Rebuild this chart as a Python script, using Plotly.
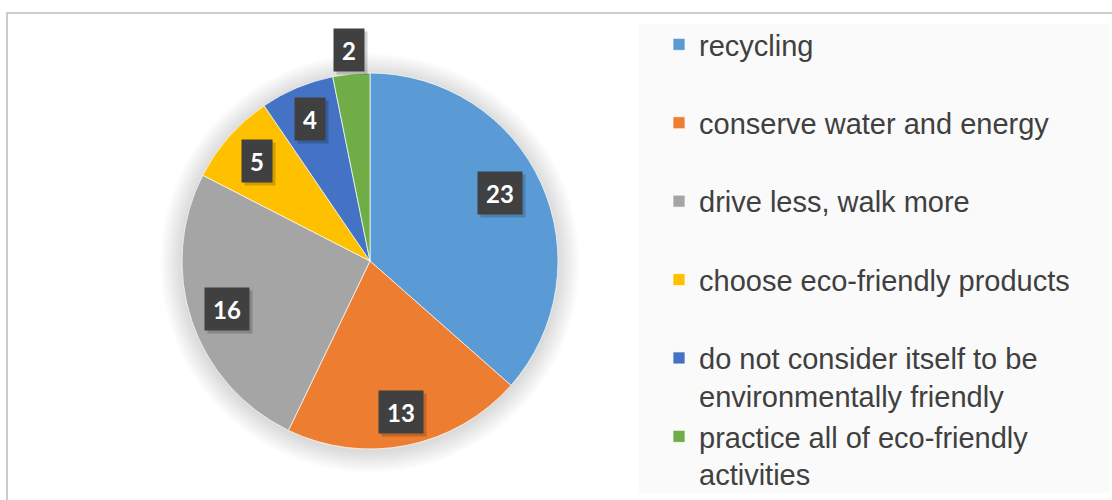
import math
import plotly.graph_objects as go

# Survey answers: what people do to be eco-friendly
labels = [
    "recycling",
    "conserve water and energy",
    "drive less, walk more",
    "choose eco-friendly products",
    "do not consider itself to be<br>environmentally friendly",
    "practice all of eco-friendly<br>activities",
]
values = [23, 13, 16, 5, 4, 2]
colors = ["#5B9BD5", "#ED7D31", "#A5A5A5", "#FFC000", "#4472C4", "#70AD47"]

W, H = 1112, 500
CX, CY, R = 370, 261, 188          # pie centre and radius in pixels
label_radius = [0.78, 0.82, 0.805, 0.80, 0.82, 1.13]
label_turn = [-3.5, 0, 0, 0, 0, 0]  # small angular nudges (degrees) for value labels

# every legend entry takes two text lines so the entries are evenly spaced
legend_labels = [t if "<br>" in t else t + "<br>\u00a0" for t in labels]


def px_to_paper(x, y):
    return x / W, 1 - y / H


fig = go.Figure()

fig.add_trace(go.Pie(
    labels=legend_labels,
    values=values,
    sort=False,
    direction="clockwise",
    rotation=0,
    marker=dict(colors=colors, line=dict(color="white", width=0.7)),
    textinfo="none",
    hoverinfo="label+value",
    domain=dict(
        x=[(CX - R) / W, (CX + R) / W],
        y=[1 - (CY + R) / H, 1 - (CY - R) / H],
    ),
    showlegend=True,
))

shapes = []
# outer frame of the chart area
shapes.append(dict(type="rect", xref="paper", yref="paper",
                   x0=7 / W, x1=1.02, y0=-0.03, y1=1 - 13 / H,
                   line=dict(color="#BFBFBF", width=1.6), fillcolor="rgba(0,0,0,0)",
                   layer="below"))
# legend panel
x0, y1 = px_to_paper(639, 24)
x1, y0 = px_to_paper(1110, 493)
shapes.append(dict(type="rect", xref="paper", yref="paper",
                   x0=x0, x1=x1, y0=y0, y1=y1,
                   line=dict(width=0), fillcolor="#FAFAFA", layer="below"))
# soft glow around the pie
for k in range(12, 0, -1):
    rr = R + 1.8 * k
    a0, b1 = px_to_paper(CX - rr, CY + 2 - rr)
    a1, b0 = px_to_paper(CX + rr, CY + 2 + rr)
    shapes.append(dict(type="circle", xref="paper", yref="paper",
                       x0=a0, x1=a1, y0=b0, y1=b1,
                       line=dict(width=0), fillcolor="rgba(0,0,0,0.011)",
                       layer="below"))

# value labels in dark boxes, each with a faint drop shadow
annotations = []
total = sum(values)
cum = 0
for v, rf, turn in zip(values, label_radius, label_turn):
    theta = 2 * math.pi * (cum + v / 2) / total + math.radians(turn)
    cum += v
    lx = CX + rf * R * math.sin(theta)
    ly = CY - rf * R * math.cos(theta)
    ax, ay = px_to_paper(lx, ly)
    w = 14 * len(str(v)) + 8
    common = dict(x=ax, y=ay, xref="paper", yref="paper", showarrow=False,
                  width=w, height=34, borderpad=4,
                  xanchor="center", yanchor="middle")
    annotations.append(dict(common, text="\u00a0", bgcolor="rgba(0,0,0,0.18)",
                            font=dict(family="Lato", size=24),
                            xshift=3, yshift=-3))
    annotations.append(dict(common, text=str(v), bgcolor="#404040",
                            font=dict(family="Lato", size=24, weight="bold",
                                      color="white")))

fig.update_layout(
    width=W, height=H,
    margin=dict(l=0, r=0, t=0, b=0),
    paper_bgcolor="white",
    plot_bgcolor="white",
    shapes=shapes,
    annotations=annotations,
    legend=dict(
        x=659 / W, xanchor="left",
        y=1 - 20.5 / H, yanchor="top",
        bgcolor="rgba(0,0,0,0)",
        font=dict(family="Liberation Sans", size=29, color="#404040"),
        valign="top",
        traceorder="normal",
    ),
)

fig.write_html("out.html")
